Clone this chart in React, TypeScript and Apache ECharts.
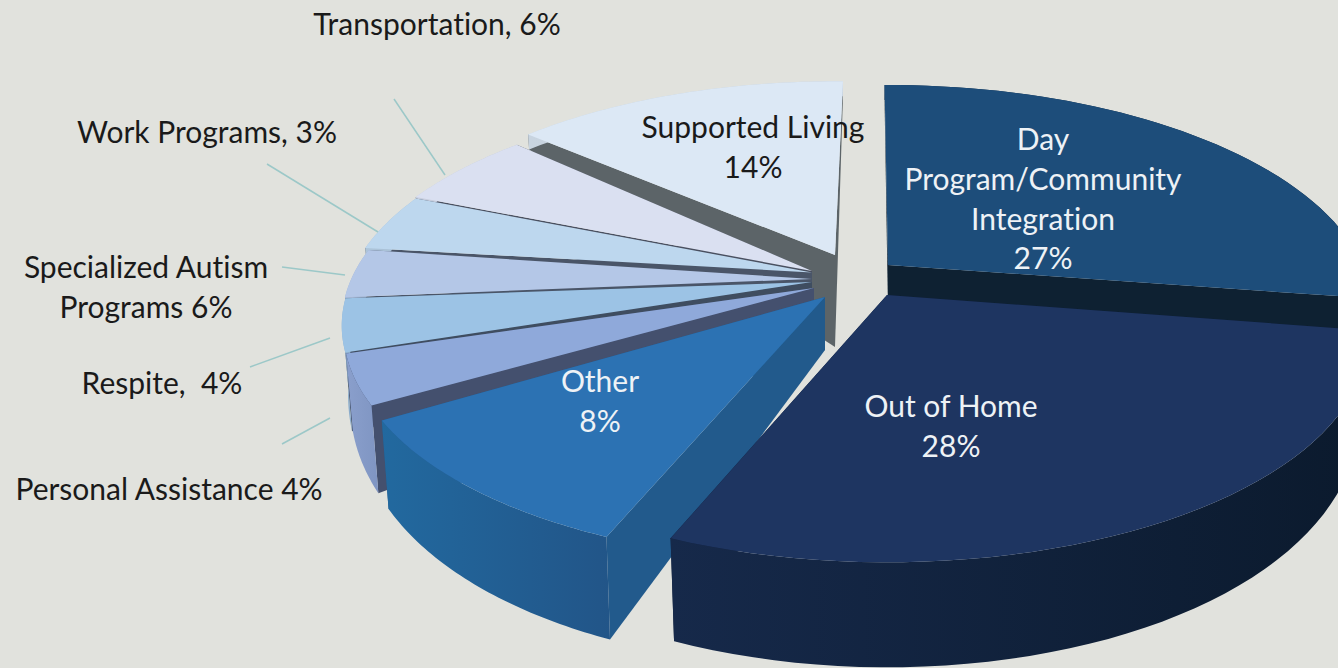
import React, { useEffect, useRef } from "react";
import * as echarts from "echarts";

// Clockwise from the top of the pie, in the order the slices appear.
const categories = ["Day Program/Community Integration", "Out of Home", "Other", "Personal Assistance", "Respite", "Work Programs", "Specialized Autism Programs", "Transportation", "Supported Living"];
const shares = [27, 28, 8, 4, 4, 3, 6, 6, 14];

const topColors = ["#1D4D7A", "#1E3561", "#2C72B3", "#8FA9DA", "#9CC3E5", "#B4C7E7", "#BDD7EE", "#DAE0F1", "#DCE8F5"];
const rimFrom = ["#12304e", "#16294A", "#22699F", "#8A9FCC", "#8FB2D2", "#a5b7d4", "#adc5da", "#c8cede", "#c8d4e0"];
const rimTo = ["#0d2236", "#0B1A2D", "#225588", "#7F95C2", "#8aaac8", "#9caecb", "#a5bcd2", "#c0c6d6", "#c0ccd8"];
const cutColors = ["#0E2132", "#101E38", "#225A8C", "#44506E", "#3f4d60", "#4a5568", "#4a5568", "#4a5060", "#5C6468"];

// layout per slice: apex, radius scale, angular shift and stretch of the 3D view, apex wall height, layer
const apexX = [888, 887, 825, 814, 812, 812, 812, 812, 835];
const apexY = [265, 295, 297, 288, 282, 279, 272.5, 271, 255];
const radius = [1, 0.99, 0.98, 0.97, 0.97, 0.97, 0.97, 0.97, 0.965];
const spin = [-0.5, 2, 4.5, 12.9, 10.4, 9.5, 10.5, 4.3, 1.2];
const warp = [1.02, 1.02, 1.25, 0.915, 0.975, 1.21, 0.715, 0.97, 1];
const apexLift = [45, 45, 53, 45, 45, 45, 45, 45, 92];
const layer = [40, 60, 50, 30, 28, 26, 24, 22, 10];

const labelLines = [
  { text: "Transportation, 6%", x: 437, y: 23, color: "#1a1a1a" },
  { text: "Work Programs, 3%", x: 207, y: 131, color: "#1a1a1a" },
  { text: "Specialized Autism", x: 146, y: 266, color: "#1a1a1a" },
  { text: "Programs 6%", x: 146, y: 306, color: "#1a1a1a" },
  { text: "Respite,  4%", x: 162, y: 382, color: "#1a1a1a" },
  { text: "Personal Assistance 4%", x: 169, y: 488, color: "#1a1a1a" },
  { text: "Supported Living", x: 753, y: 126, color: "#1a1a1a" },
  { text: "14%", x: 753, y: 166, color: "#1a1a1a" },
  { text: "Day", x: 1043, y: 138, color: "#eef2f6" },
  { text: "Program/Community", x: 1043, y: 178, color: "#eef2f6" },
  { text: "Integration", x: 1043, y: 218, color: "#eef2f6" },
  { text: "27%", x: 1043, y: 257, color: "#eef2f6" },
  { text: "Out of Home", x: 951, y: 405, color: "#eef2f6" },
  { text: "28%", x: 951, y: 445, color: "#eef2f6" },
  { text: "Other", x: 600, y: 380, color: "#eef2f6" },
  { text: "8%", x: 600, y: 420, color: "#eef2f6" },
];
const leaders = [
  [394, 99, 445, 175],
  [267, 164, 378, 232],
  [282, 267, 345, 275],
  [250, 367, 330, 338],
  [282, 444, 330, 418],
];

const K = 0.2, RX = 475, RY = 216;
const total = shares.reduce((a, b) => a + b, 0);
const starts: number[] = [];
shares.reduce((acc, v, i) => { starts[i] = acc; return acc + v; }, 0);

function pt(i: number, deg: number, r: number, lift: boolean): number[] {
  const t = (deg * Math.PI) / 180;
  const c = Math.sin(t), s = -Math.cos(t);
  const d = 1 - K * s * r;
  const x = apexX[i] + (RX * radius[i] * r * c) / d;
  const y = apexY[i] + (RY * radius[i] * r * s) / d;
  if (!lift) return [x, y];
  const rimLift = s > 0 ? 45 + 60 * Math.sqrt(s) : 45 + 60 * Math.max(s, -0.5);
  const h = apexLift[i] + (rimLift - apexLift[i]) * r;
  return [x - c * r * h * 0.09, y + h];
}

function renderItem(params: any) {
  const i = params.dataIndex;
  const a0 = (starts[i] / total) * 360 + spin[i];
  const a1 = a0 + (shares[i] / total) * 360 * warp[i];
  const n = 48;
  const rimTop: number[][] = [], rimBot: number[][] = [];
  for (let j = 0; j <= n; j++) {
    const a = a0 + ((a1 - a0) * j) / n;
    rimTop.push(pt(i, a, 1, false));
    rimBot.push(pt(i, a, 1, true));
  }
  const apexTop = pt(i, a0, 0, false), apexBot = pt(i, a0, 0, true);
  const z = layer[i];
  return {
    type: "group",
    children: [
      {
        type: "polygon", z2: z,
        shape: { points: [apexTop, rimTop[n], rimBot[n], apexBot] },
        style: { fill: cutColors[i] },
      },
      {
        type: "polygon", z2: z,
        shape: { points: [apexTop, rimTop[0], rimBot[0], apexBot] },
        style: { fill: cutColors[i] },
      },
      {
        type: "polygon", z2: z + 1,
        shape: { points: [...rimTop, ...[...rimBot].reverse()] },
        style: {
          fill: new echarts.graphic.LinearGradient(0, 0, 1, 0, [
            { offset: 0, color: rimFrom[i] },
            { offset: 1, color: rimTo[i] },
          ]),
        },
      },
      {
        type: "polygon", z2: z + 2,
        shape: { points: [apexTop, ...rimTop] },
        style: { fill: topColors[i] },
      },
    ],
  };
}

export default function App() {
  const ref = useRef<HTMLDivElement>(null);
  useEffect(() => {
    document.body.style.margin = "0";
    const chart = echarts.init(ref.current!, null, { renderer: "svg" });
    chart.setOption({
      animation: false,
      backgroundColor: "#E1E2DD",
      series: [{
        type: "custom",
        coordinateSystem: "none",
        renderItem,
        silent: true,
        data: categories.map((name, i) => ({ name, value: shares[i] })),
      }],
      graphic: [
        ...leaders.map((l) => ({
          type: "line", z: 5,
          shape: { x1: l[0], y1: l[1], x2: l[2], y2: l[3] },
          style: { stroke: "#9CC8C8", lineWidth: 1.5 },
        })),
        ...labelLines.map((t) => ({
          type: "text", z: 100, x: t.x, y: t.y,
          style: {
            text: t.text, fill: t.color, font: "30px Lato",
            textAlign: "center", textVerticalAlign: "middle",
          },
        })),
      ],
    });
    return () => chart.dispose();
  }, []);
  return (
    <>
      <style>{"svg text { font-variant-ligatures: none !important; }"}</style>
      <div ref={ref} style={{ width: 1338, height: 668, overflow: "hidden" }} />
    </>
  );
}
